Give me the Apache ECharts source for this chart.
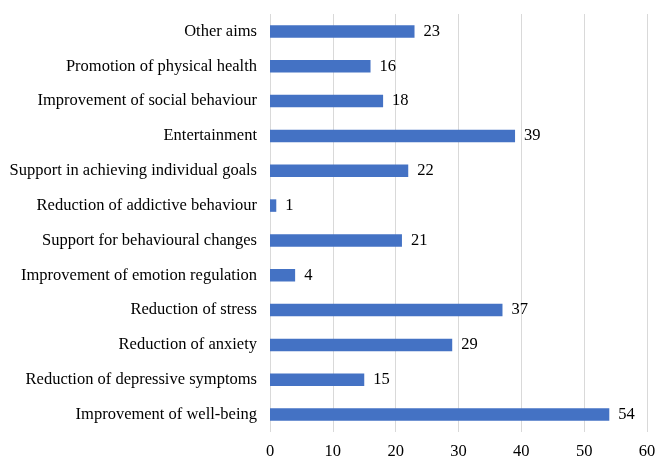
<!DOCTYPE html>
<html>
<head>
<meta charset="utf-8">
<script src="https://cdn.jsdelivr.net/npm/echarts@6/dist/echarts.min.js"></script>
<style>html,body{margin:0;padding:0;background:#fff}#c{width:670px;height:469px}</style>
</head>
<body>
<div id="c"></div>
<script>
const categories = [
  "Improvement of well-being",
  "Reduction of depressive symptoms",
  "Reduction of anxiety",
  "Reduction of stress",
  "Improvement of emotion regulation",
  "Support for behavioural changes",
  "Reduction of addictive behaviour",
  "Support in achieving individual goals",
  "Entertainment",
  "Improvement of social behaviour",
  "Promotion of physical health",
  "Other aims"
];
const values = [54, 15, 29, 37, 4, 21, 1, 22, 39, 18, 16, 23];
const xTicks = [0, 10, 20, 30, 40, 50, 60];

const font = "'Liberation Serif', 'Times New Roman', serif";
const chart = echarts.init(document.getElementById('c'), null, {renderer: 'canvas'});
chart.setOption({
  animation: false,
  grid: {left: 270, right: 23, top: 14, bottom: 37, containLabel: false},
  xAxis: {
    type: 'value',
    min: xTicks[0],
    max: xTicks[xTicks.length - 1],
    interval: 10,
    axisLine: {show: false},
    axisTick: {show: false},
    splitLine: {show: true, lineStyle: {color: '#d9d9d9', width: 1}},
    axisLabel: {color: '#000', fontFamily: font, fontSize: 16.5, margin: 11}
  },
  yAxis: {
    type: 'category',
    data: categories,
    axisLine: {show: false},
    axisTick: {show: false},
    splitLine: {show: false},
    axisLabel: {color: '#000', fontFamily: font, fontSize: 16.5, margin: 13}
  },
  series: [{
    type: 'bar',
    data: values,
    barWidth: 12.5,
    itemStyle: {color: '#4472C4'},
    label: {show: true, position: 'right', distance: 9, color: '#000', fontFamily: font, fontSize: 16.5}
  }]
});
</script>
</body>
</html>
